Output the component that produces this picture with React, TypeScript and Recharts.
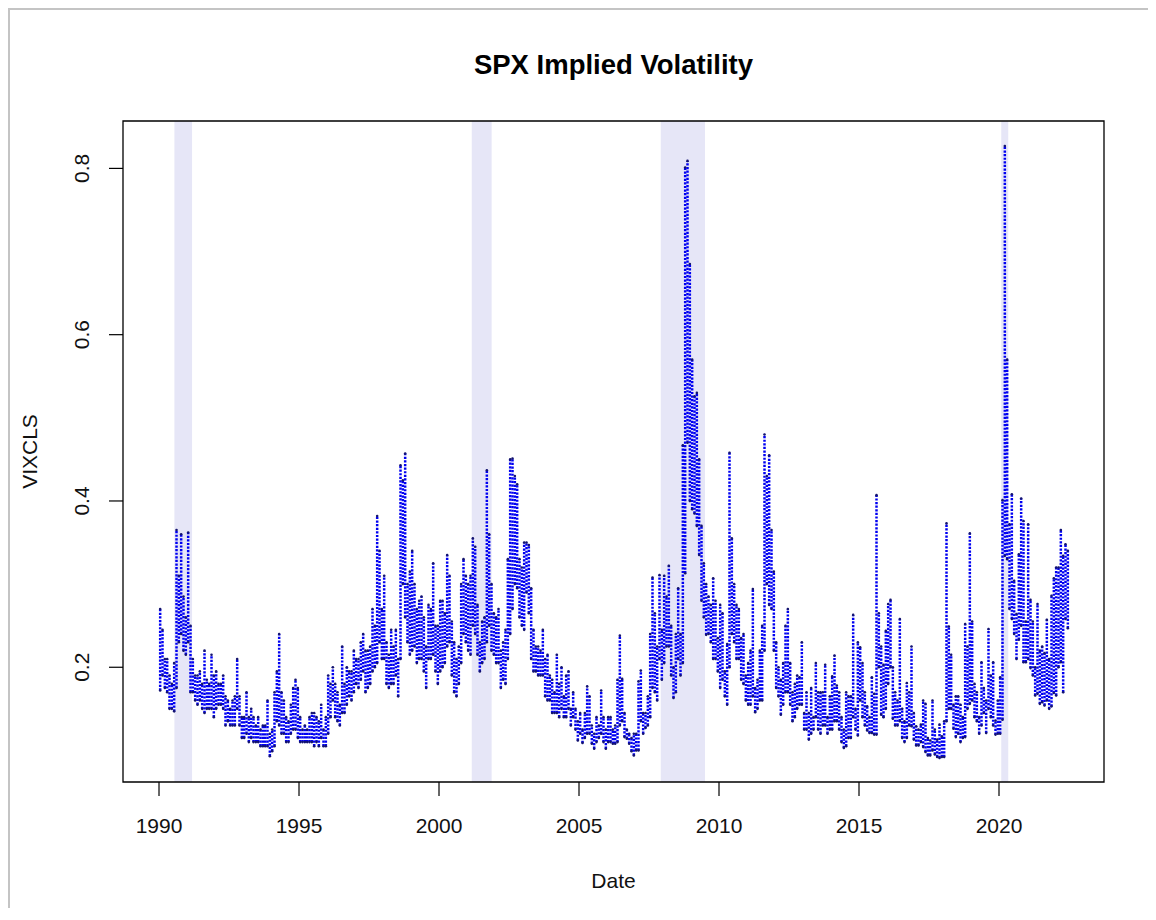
import React from 'react';
import { ComposedChart, Scatter, XAxis, YAxis, ReferenceArea, ErrorBar } from 'recharts';

// Monthly VIX range (index points), Jan 1990 .. Jun 2022
const START_YEAR = 1990;
const VIX_LO: number[] = [
  17.2, 19.0, 17.5, 17.0, 15.0, 15.0, 14.7, 17.5, 23.0, 24.0, 22.0, 21.5, // 1990
  23.0, 17.0, 17.0, 16.0, 15.5, 16.0, 15.0, 14.5, 15.0, 15.0, 15.0, 14.0, // 1991
  15.0, 15.5, 15.5, 15.0, 13.0, 13.5, 13.0, 13.0, 13.0, 15.0, 13.0, 11.5, // 1992
  11.5, 12.0, 11.0, 11.5, 11.0, 11.0, 11.0, 10.5, 10.5, 10.5, 10.5, 9.3, // 1993
  9.9, 10.5, 13.5, 13.0, 12.0, 12.0, 11.0, 11.0, 12.0, 12.5, 12.5, 11.5, // 1994
  11.0, 11.0, 11.0, 11.0, 11.0, 11.0, 10.5, 11.0, 10.5, 11.5, 10.5, 10.5, // 1995
  12.0, 14.0, 16.0, 14.0, 13.5, 13.0, 14.5, 14.5, 15.5, 16.5, 16.0, 17.0, // 1996
  18.0, 17.5, 18.5, 19.5, 17.0, 17.5, 18.0, 19.5, 20.0, 20.5, 23.0, 21.0, // 1997
  21.0, 18.0, 17.5, 18.0, 18.0, 19.0, 16.5, 21.0, 30.0, 26.0, 23.0, 21.5, // 1998
  22.0, 22.5, 20.5, 21.0, 21.0, 19.5, 17.5, 21.0, 21.0, 21.5, 19.5, 18.0, // 1999
  19.5, 20.0, 20.5, 22.5, 23.0, 19.0, 17.0, 16.5, 18.0, 20.5, 24.0, 23.0, // 2000
  22.0, 21.5, 25.0, 24.0, 21.5, 19.5, 20.5, 21.0, 23.0, 25.0, 22.0, 21.5, // 2001
  20.5, 20.5, 17.5, 18.5, 18.0, 21.0, 24.0, 27.0, 30.0, 29.5, 26.0, 25.0, // 2002
  24.5, 29.0, 26.5, 21.0, 19.5, 19.5, 19.0, 19.0, 19.0, 16.5, 16.0, 16.0, // 2003
  14.5, 14.5, 14.5, 14.0, 15.0, 14.0, 14.0, 15.0, 13.0, 14.0, 12.5, 11.2, // 2004
  12.0, 10.9, 11.5, 12.0, 12.0, 10.8, 10.2, 11.0, 11.5, 12.0, 11.0, 10.2, // 2005
  11.0, 11.0, 10.8, 10.8, 11.0, 13.0, 13.5, 11.6, 11.4, 10.8, 9.9, 9.4, // 2006
  10.0, 10.0, 13.5, 12.0, 12.7, 13.0, 14.0, 17.5, 17.0, 16.0, 21.0, 18.5, // 2007
  20.5, 22.5, 22.5, 19.0, 16.3, 17.0, 21.0, 19.0, 20.5, 31.3, 47.0, 40.0, // 2008
  39.0, 38.5, 37.0, 33.5, 28.0, 26.0, 23.9, 24.0, 23.0, 21.0, 21.0, 19.5, // 2009
  17.5, 18.5, 16.5, 15.5, 20.0, 24.0, 23.0, 21.0, 21.0, 18.5, 18.0, 16.0, // 2010
  15.5, 15.5, 16.5, 14.6, 15.0, 16.0, 16.0, 22.0, 30.0, 27.5, 27.0, 22.0, // 2011
  17.5, 16.5, 14.3, 15.5, 17.0, 17.0, 15.5, 13.5, 14.0, 15.0, 15.5, 15.5, // 2012
  12.5, 12.5, 11.3, 12.0, 12.5, 14.0, 12.5, 12.0, 13.0, 13.0, 12.0, 12.5, // 2013
  12.5, 13.5, 13.5, 12.5, 11.0, 10.3, 10.5, 11.5, 11.5, 14.0, 12.5, 11.8, // 2014
  16.0, 14.0, 13.0, 12.4, 12.1, 12.1, 11.9, 11.9, 20.0, 14.3, 14.0, 15.0, // 2015
  18.0, 20.0, 13.8, 13.0, 13.0, 13.5, 11.5, 11.0, 11.5, 13.0, 12.9, 11.3, // 2016
  10.6, 10.6, 11.0, 10.4, 9.8, 9.4, 9.4, 10.0, 9.5, 9.2, 9.1, 9.2, // 2017
  9.2, 13.5, 15.0, 15.0, 12.6, 11.6, 12.0, 11.0, 11.5, 11.6, 15.0, 15.6, // 2018
  16.0, 14.0, 13.5, 12.0, 13.0, 14.5, 12.1, 15.0, 14.0, 13.0, 11.9, 12.0, // 2019
  12.0, 13.7, 33.4, 33.0, 27.0, 25.8, 24.0, 21.0, 23.3, 25.0, 20.6, 20.6, // 2020
  21.0, 19.9, 19.0, 16.6, 16.8, 15.6, 15.8, 15.4, 16.0, 15.0, 15.3, 16.9, // 2021
  16.6, 20.0, 20.6, 17.0, 25.8, 24.7, // 2022
];
const VIX_HI: number[] = [
  27.0, 24.5, 21.0, 21.0, 19.0, 18.0, 20.5, 36.5, 31.0, 36.0, 28.5, 26.0, // 1990
  36.2, 25.0, 21.0, 19.0, 19.0, 19.5, 18.0, 22.0, 18.5, 18.0, 21.5, 19.0, // 1991
  19.5, 18.0, 18.0, 19.0, 16.5, 16.0, 15.0, 16.0, 16.5, 21.0, 16.5, 14.0, // 1992
  14.0, 17.0, 14.0, 15.0, 14.0, 13.0, 14.0, 12.5, 13.0, 13.0, 16.0, 12.0, // 1993
  12.5, 17.0, 19.5, 24.0, 17.0, 16.0, 14.0, 13.5, 15.5, 17.5, 18.5, 17.5, // 1994
  14.0, 12.5, 13.0, 12.5, 14.0, 14.5, 14.5, 14.0, 13.5, 15.5, 12.5, 14.0, // 1995
  19.0, 18.0, 20.0, 18.0, 17.0, 15.5, 22.5, 18.0, 20.0, 19.5, 19.5, 22.0, // 1996
  21.0, 21.0, 23.0, 24.0, 22.0, 22.0, 22.5, 27.0, 25.0, 38.2, 34.0, 27.0, // 1997
  31.0, 23.0, 21.5, 24.5, 22.5, 24.5, 21.0, 44.3, 42.5, 45.7, 30.0, 31.5, // 1998
  34.0, 30.0, 27.0, 28.0, 28.5, 26.0, 22.5, 27.5, 27.0, 32.5, 25.0, 25.0, // 1999
  28.0, 28.0, 26.5, 33.5, 31.0, 25.5, 23.0, 21.0, 22.5, 30.0, 33.0, 31.0, // 2000
  30.0, 31.0, 35.5, 34.5, 27.5, 23.0, 25.5, 26.0, 43.7, 36.0, 30.0, 26.5, // 2001
  26.0, 27.0, 22.0, 23.0, 24.5, 33.0, 45.0, 45.1, 43.0, 42.0, 33.0, 32.0, // 2002
  35.0, 35.0, 34.7, 29.5, 24.5, 22.5, 22.5, 22.0, 24.5, 21.0, 21.5, 19.0, // 2003
  18.5, 17.0, 21.5, 18.0, 20.0, 16.5, 19.0, 19.5, 15.0, 17.0, 15.0, 13.5, // 2004
  14.5, 12.5, 14.5, 17.7, 16.5, 13.0, 12.0, 14.0, 13.0, 17.2, 14.0, 12.5, // 2005
  14.0, 14.0, 12.5, 13.0, 18.5, 23.8, 18.6, 14.5, 12.5, 12.0, 11.5, 12.0, // 2006
  12.0, 18.3, 19.6, 14.5, 14.5, 16.5, 24.0, 30.8, 26.5, 22.5, 31.1, 24.5, // 2007
  31.0, 28.5, 32.2, 25.0, 20.0, 24.0, 29.5, 24.0, 46.7, 80.1, 80.9, 68.5, // 2008
  57.0, 52.6, 53.0, 45.0, 37.0, 32.5, 30.0, 28.5, 27.5, 30.7, 28.0, 23.5, // 2009
  27.5, 26.5, 19.5, 22.8, 45.8, 35.5, 30.0, 27.5, 27.0, 23.5, 24.0, 19.0, // 2010
  20.5, 22.0, 29.4, 17.5, 18.5, 22.0, 25.0, 48.0, 43.0, 45.5, 36.5, 31.5, // 2011
  23.0, 20.0, 18.5, 20.5, 25.0, 27.0, 20.5, 17.0, 18.0, 19.0, 18.8, 23.0, // 2012
  14.5, 17.0, 14.5, 17.5, 14.0, 20.5, 17.0, 17.0, 17.0, 20.3, 14.0, 16.5, // 2013
  18.9, 21.4, 17.8, 17.0, 14.0, 12.5, 17.0, 16.5, 16.5, 26.3, 15.0, 23.0, // 2014
  22.4, 20.5, 17.0, 15.3, 14.0, 18.8, 16.8, 40.7, 26.5, 22.5, 20.3, 24.4, // 2015
  27.6, 28.1, 20.0, 17.0, 16.0, 25.8, 15.0, 13.5, 18.1, 17.0, 22.5, 14.5, // 2016
  12.9, 12.5, 13.1, 16.0, 15.6, 11.5, 11.2, 16.0, 12.5, 11.3, 13.1, 11.7, // 2017
  13.5, 37.3, 24.9, 21.5, 15.5, 16.5, 16.5, 15.5, 14.0, 25.2, 22.5, 36.1, // 2018
  25.5, 18.0, 17.0, 14.0, 20.6, 17.5, 16.0, 24.6, 19.0, 20.6, 13.6, 16.0, // 2019
  18.8, 40.1, 82.7, 57.0, 37.2, 40.8, 30.4, 26.4, 33.6, 40.3, 37.6, 25.5, // 2020
  37.2, 28.1, 25.5, 20.0, 27.6, 22.0, 22.5, 21.7, 25.7, 21.0, 28.6, 30.7, // 2021
  32.0, 32.0, 36.5, 33.4, 34.8, 34.0, // 2022
];

// NBER recession shading (decimal years)
const REC_START = [1990.55, 2001.17, 2007.92, 2020.08];
const REC_END = [1991.18, 2001.88, 2009.5, 2020.33];

const X_TICKS = [1990, 1995, 2000, 2005, 2010, 2015, 2020];
const Y_TICKS = [0.2, 0.4, 0.6, 0.8];
const X_DOMAIN: [number, number] = [1988.714, 2023.75];
const Y_DOMAIN: [number, number] = [0.062, 0.857];

const TITLE = 'SPX Implied Volatility';
const X_LABEL = 'Date';
const Y_LABEL = 'VIXCLS';

const rows = VIX_LO.map((lo, i) => ({
  t: START_YEAR + Math.floor(i / 12) + ((i % 12) + 0.5) / 12,
  lo: lo / 100,
  hi: VIX_HI[i] / 100,
  span: [0, (VIX_HI[i] - lo) / 100],
}));

const FONT = '"Liberation Sans", Arial, sans-serif';
const FS = 21;

const XTick = (p: any) => (
  <text x={p.x} y={p.y} dy={37} textAnchor="middle" fontSize={FS} fontFamily={FONT} fill="#111">
    {p.payload.value}
  </text>
);

const YTick = (p: any) => {
  const x = p.x - 20;
  const y = p.y;
  return (
    <text x={x} y={y} transform={`rotate(-90, ${x}, ${y})`} textAnchor="middle" fontSize={FS} fontFamily={FONT} fill="#111">
      {p.payload.value}
    </text>
  );
};

const Dot = (p: any) => <circle cx={p.cx} cy={p.cy} r={1.3} fill="#14146e" />;

export default function App() {
  return (
    <div
      style={{
        position: 'relative',
        width: 1140,
        height: 898,
        borderTop: '2px solid #c4c4c4',
        borderLeft: '2px solid #c4c4c4',
        background: '#fff',
      }}
    >
      <ComposedChart width={1140} height={898} margin={{ top: 111, right: 46, bottom: 66, left: 53 }}>
        <XAxis
          dataKey="t"
          type="number"
          domain={X_DOMAIN}
          allowDataOverflow
          ticks={X_TICKS}
          interval={0}
          axisLine={false}
          tickLine={{ stroke: '#000', strokeWidth: 1.2 }}
          tickSize={14}
          tickMargin={0}
          height={60}
          tick={XTick}
        />
        <YAxis
          type="number"
          domain={Y_DOMAIN}
          allowDataOverflow
          ticks={Y_TICKS}
          interval={0}
          axisLine={false}
          tickLine={{ stroke: '#000', strokeWidth: 1.2 }}
          tickSize={14}
          tickMargin={0}
          width={60}
          tick={YTick}
        />
        {REC_START.map((s, i) => (
          <ReferenceArea key={`rec-${i}`} x1={s} x2={REC_END[i]} fill="#e6e6f7" fillOpacity={1} stroke="none" />
        ))}
        <Scatter data={rows} dataKey="lo" shape={Dot} isAnimationActive={false}>
          <ErrorBar
            dataKey="span"
            direction="y"
            width={0}
            stroke="#0000f2"
            strokeWidth={2.5}
            strokeDasharray="2.2 1.4"
            isAnimationActive={false}
          />
        </Scatter>
        <Scatter data={rows} dataKey="hi" shape={Dot} isAnimationActive={false} />
        <ReferenceArea
          x1={X_DOMAIN[0]}
          x2={X_DOMAIN[1]}
          y1={Y_DOMAIN[0]}
          y2={Y_DOMAIN[1]}
          fill="none"
          stroke="#000"
          strokeWidth={1.3}
        />
      </ComposedChart>
      <svg width={1140} height={898} style={{ position: 'absolute', left: 0, top: 0, pointerEvents: 'none' }}>
        <text x={603.5} y={64} textAnchor="middle" fontSize={27.5} fontWeight="bold" fontFamily={FONT} fill="#000">
          {TITLE}
        </text>
        <text x={603.5} y={878} textAnchor="middle" fontSize={FS} fontFamily={FONT} fill="#111">
          {X_LABEL}
        </text>
        <text x={27} y={441.5} transform="rotate(-90, 27, 441.5)" textAnchor="middle" fontSize={FS} fontFamily={FONT} fill="#111">
          {Y_LABEL}
        </text>
      </svg>
    </div>
  );
}
